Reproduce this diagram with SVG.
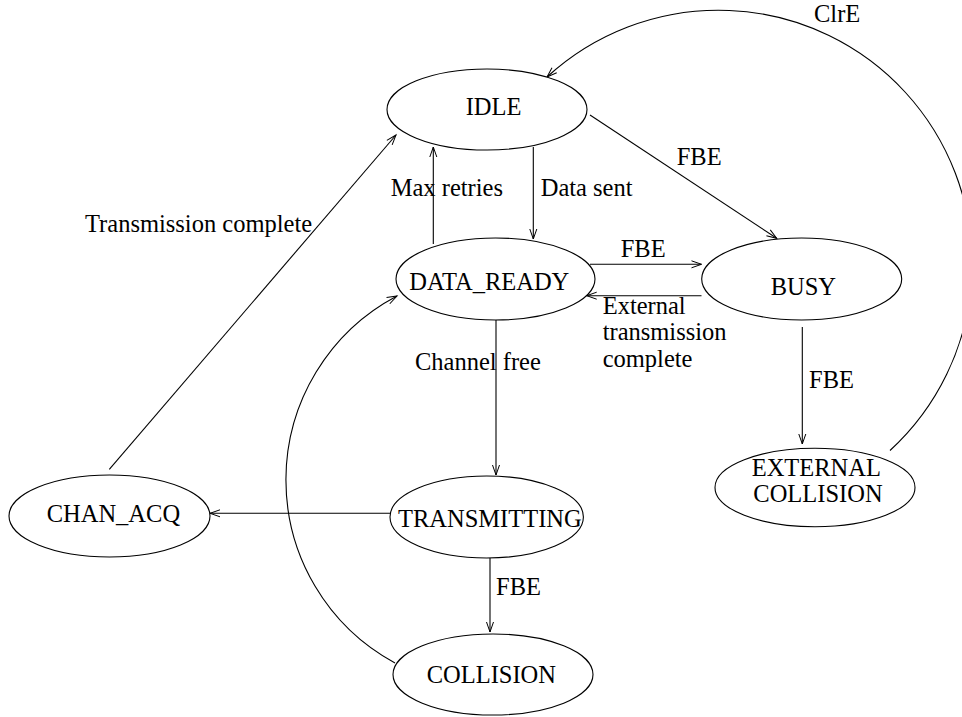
<svg xmlns="http://www.w3.org/2000/svg" width="962" height="717" viewBox="0 0 962 717">
<style>
.n ellipse{fill:#fff;stroke:#000;stroke-width:1.1}
text{font-family:"Liberation Serif","Times New Roman",serif;font-size:24.5px;fill:#000}
.c path{fill:none;stroke:#000;stroke-width:1.1;marker-end:url(#a)}
.c path.na{marker-end:none}
</style>
<defs>
<marker id="a" markerUnits="userSpaceOnUse" markerWidth="14" markerHeight="12" viewBox="-1 -1 14 12" refX="11" refY="4" orient="auto">
<path d="M1,0.5 L11,4 L1,7.5" fill="none" stroke="#000" stroke-width="1"/>
</marker>
</defs>
<rect width="962" height="717" fill="#fff"/>
<g class="c" id="connectors">
<path d="M590 115 L776.7 238.3"/>
<path d="M433.3 244 L433.3 147"/>
<path d="M533.3 147 L533.3 239"/>
<path d="M590 264.3 L701.5 264.3"/>
<path d="M701.5 295.7 L586.7 295.7"/>
<path d="M496 320 L496 475"/>
<path d="M390 513.3 L210 513.3"/>
<path d="M490 558 L490 632"/>
<path d="M802.3 327 L802.3 444"/>
<path d="M109.3 469.3 L396 135"/>
<path d="M395 663 A208 208 0 0 1 397 296"/>
<path d="M890 450.5 A253.5 253.5 0 0 0 547 77"/>
</g>
<g id="labels">
<text x="390.7" y="195.7">Max retries</text>
<text x="540.7" y="195.7">Data sent</text>
<text x="676.7" y="165">FBE</text>
<text x="814" y="21.7">ClrE</text>
<text x="85" y="232.3">Transmission complete</text>
<text x="620.7" y="257.3">FBE</text>
<text x="602.7" y="314">External</text>
<text x="602.7" y="340">transmission</text>
<text x="602.7" y="366.7">complete</text>
<text x="809" y="388.3">FBE</text>
<text x="415" y="370">Channel free</text>
<text x="496" y="595">FBE</text>
</g>
<g class="n" id="idle"><ellipse cx="487" cy="109.5" rx="100" ry="40.5"/><text x="465.7" y="115">IDLE</text></g>
<g class="n" id="data_ready"><ellipse cx="495.5" cy="279" rx="99.5" ry="41"/><text x="409.3" y="290">DATA_READY</text></g>
<g class="n" id="busy"><ellipse cx="801.7" cy="279" rx="100" ry="41"/><text x="770.7" y="295">BUSY</text></g>
<g class="n" id="external_collision"><ellipse cx="815" cy="487.5" rx="100" ry="39.2"/><text x="751.7" y="476">EXTERNAL</text><text x="753.3" y="501.7">COLLISION</text></g>
<g class="n" id="chan_acq"><ellipse cx="109.5" cy="516" rx="100.5" ry="41"/><text x="46.7" y="521.7">CHAN_ACQ</text></g>
<g class="n" id="transmitting"><ellipse cx="486.7" cy="517" rx="96.7" ry="41"/><text x="398" y="526.7">TRANSMITTING</text></g>
<g class="n" id="collision"><ellipse cx="493" cy="674.5" rx="100" ry="40.5"/><text x="426.7" y="683.3">COLLISION</text></g>
</svg>
